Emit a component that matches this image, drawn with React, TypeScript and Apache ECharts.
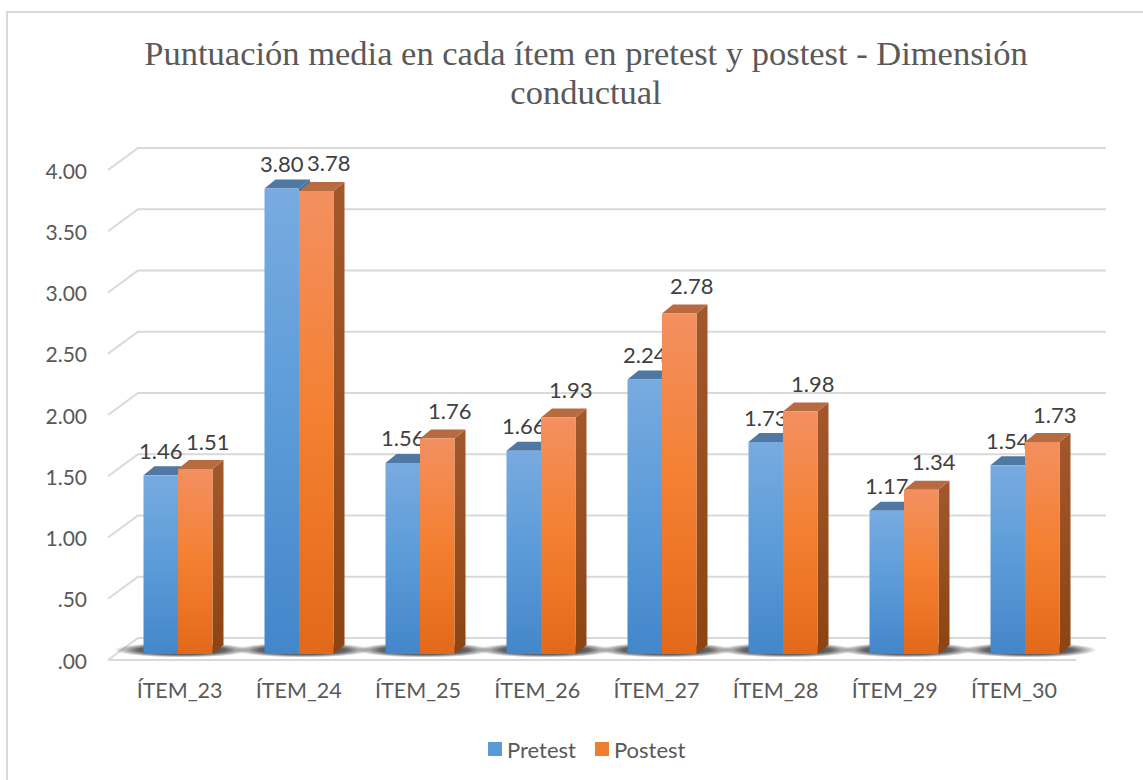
import React, { useEffect, useRef } from "react";
import * as echarts from "echarts";

const categories = ["ÍTEM_23", "ÍTEM_24", "ÍTEM_25", "ÍTEM_26", "ÍTEM_27", "ÍTEM_28", "ÍTEM_29", "ÍTEM_30"];
const pretest = [1.46, 3.8, 1.56, 1.66, 2.24, 1.73, 1.17, 1.54];
const postest = [1.51, 3.78, 1.76, 1.93, 2.78, 1.98, 1.34, 1.73];
const yTicks = [0, 0.5, 1, 1.5, 2, 2.5, 3, 3.5, 4];
const yTickLabels = [".00", ".50", "1.00", "1.50", "2.00", "2.50", "3.00", "3.50", "4.00"];
const seriesNames = ["Pretest", "Postest"];
const titleText = "Puntuación media en cada ítem en pretest y postest - Dimensión\nconductual";

const FONT = "Lato";
const BW = 34.5;
const DX = 11;
const DY = -9;

const palettes = [
  {
    frontTop: "#78abe0",
    frontMid: "#5b9bd8",
    frontBottom: "#4386ca",
    sideTop: "#3f72a6",
    sideBottom: "#356394",
    top: "#4f78a3",
    legend: "#5b9bd5",
  },
  {
    frontTop: "#f39060",
    frontMid: "#f47f30",
    frontBottom: "#e3691a",
    sideTop: "#a3582c",
    sideBottom: "#8c4412",
    top: "#b86a40",
    legend: "#ed7d31",
  },
];

function barRender(si: number) {
  return (params: any, api: any) => {
    const ci = api.value(0);
    const v = api.value(1);
    const base = api.coord([ci, 0]);
    const top = api.coord([ci, v]);
    const cx = base[0] + 1.5;
    const x0 = si === 0 ? cx - BW : cx;
    const x1 = x0 + BW;
    const yb = base[1];
    const yt = top[1];
    const p = palettes[si];
    const labelX = x0 + BW / 2 + (si === 0 ? 0 : 12.5);
    const labelY = yt - (si === 0 ? 25 : 28);
    return {
      type: "group",
      children: [
        {
          type: "polygon",
          shape: { points: [[x1, yt], [x1 + DX, yt + DY], [x1 + DX, yb + DY], [x1, yb]] },
          style: {
            fill: new echarts.graphic.LinearGradient(0, 0, 0, 1, [
              { offset: 0, color: p.sideTop },
              { offset: 1, color: p.sideBottom },
            ]),
          },
        },
        {
          type: "polygon",
          shape: { points: [[x0, yt], [x0 + DX, yt + DY], [x1 + DX, yt + DY], [x1, yt]] },
          style: { fill: p.top },
        },
        {
          type: "rect",
          shape: { x: x0, y: yt, width: BW, height: yb - yt },
          style: {
            fill: new echarts.graphic.LinearGradient(0, 0, 0, 1, [
              { offset: 0, color: p.frontTop },
              { offset: 0.5, color: p.frontMid },
              { offset: 1, color: p.frontBottom },
            ]),
          },
        },
        {
          type: "text",
          style: {
            x: labelX,
            y: labelY,
            text: v.toFixed(2),
            fill: "#404040",
            font: `22px ${FONT}`,
            align: "center",
            verticalAlign: "middle",
          },
        },
      ],
    };
  };
}

function gridRender(params: any, api: any) {
  const v = api.value(1);
  const y = api.coord([0, v])[1];
  const cs = params.coordSys;
  const L = cs.x;
  const R = cs.x + cs.width;
  const children: any[] = [
    {
      type: "polyline",
      shape: { points: [[L - 8, y + 6], [L + 22, y - 16], [R + 22, y - 16]] },
      style: { stroke: "#d9d9d9", lineWidth: 2, fill: "none" },
    },
  ];
  if (v === 0) {
    children.push({
      type: "line",
      shape: { x1: L - 8, y1: y + 6, x2: R - 8, y2: y + 6 },
      style: { stroke: "#d9d9d9", lineWidth: 2 },
    });
  }
  return { type: "group", children };
}

function shadowRender(params: any, api: any) {
  const ci = api.value(0);
  const base = api.coord([ci, 0]);
  const cx = base[0] + 1.5 + 4;
  return {
    type: "ellipse",
    shape: { cx, cy: base[1] - 4, rx: 68, ry: 7.5 },
    style: {
      fill: new echarts.graphic.RadialGradient(0.5, 0.5, 0.5, [
        { offset: 0, color: "rgba(0,0,0,0.9)" },
        { offset: 0.65, color: "rgba(0,0,0,0.6)" },
        { offset: 1, color: "rgba(0,0,0,0)" },
      ]),
    },
  };
}

export default function App() {
  const ref = useRef<HTMLDivElement>(null);
  useEffect(() => {
    if (!ref.current) return;
    const chart = echarts.init(ref.current, null, { renderer: "svg" });
    const option: any = {
      animation: false,
      backgroundColor: "#ffffff",
      title: {
        text: titleText,
        left: 581,
        textAlign: "center",
        top: 28,
        textStyle: {
          fontFamily: "Liberation Serif",
          fontSize: 34.5,
          fontWeight: "normal",
          color: "#595959",
          lineHeight: 39,
        },
      },
      legend: {
        data: seriesNames,
        left: 483,
        top: 733,
        icon: "rect",
        itemWidth: 14,
        itemHeight: 14,
        itemGap: 19,
        textStyle: { fontFamily: FONT, fontSize: 22, color: "#595959" },
      },
      graphic: [
        {
          type: "rect",
          shape: { x: 7, y: 12, width: 1300, height: 900 },
          style: { fill: "none", stroke: "#d9d9d9", lineWidth: 2 },
          silent: true,
        },
      ],
      grid: [
        { left: 116, right: 59, top: 164, bottom: 126 },
        { left: 120, width: 953.6, top: 164, bottom: 126 },
      ],
      xAxis: [
        { type: "category", gridIndex: 0, data: categories, show: false },
        {
          type: "category",
          gridIndex: 1,
          data: categories,
          axisLine: { show: false },
          axisTick: { show: false },
          axisLabel: { margin: 25, fontFamily: FONT, fontSize: 21.5, color: "#595959" },
        },
      ],
      yAxis: [
        {
          type: "value",
          gridIndex: 0,
          min: 0,
          max: 4,
          interval: 0.5,
          splitLine: { show: false },
          axisLine: { show: false },
          axisTick: { show: false },
          axisLabel: {
            margin: 29,
            fontFamily: FONT,
            fontSize: 21,
            color: "#595959",
            verticalAlign: "top",
            lineHeight: 12,
            formatter: (val: number) => yTickLabels[yTicks.indexOf(Math.round(val * 2) / 2)],
          },
        },
        { type: "value", gridIndex: 1, min: 0, max: 4, show: false },
      ],
      series: [
        {
          type: "custom",
          name: "grid",
          silent: true,
          xAxisIndex: 0,
          yAxisIndex: 0,
          renderItem: gridRender,
          data: yTicks.map((v) => [0, v]),
          encode: { x: 0, y: 1 },
          z: 1,
        },
        {
          type: "custom",
          name: "shadow",
          silent: true,
          xAxisIndex: 0,
          yAxisIndex: 0,
          renderItem: shadowRender,
          data: categories.map((_, i) => [i, 0]),
          encode: { x: 0, y: 1 },
          z: 2,
        },
        ...[pretest, postest].map((arr, si) => ({
          type: "custom",
          name: seriesNames[si],
          xAxisIndex: 0,
          yAxisIndex: 0,
          renderItem: barRender(si),
          itemStyle: { color: palettes[si].legend },
          data: arr.map((v, i) => [i, v]),
          encode: { x: 0, y: 1 },
          z: 3 + si,
        })),
      ],
    };
    chart.setOption(option);
    return () => chart.dispose();
  }, []);
  return (
    <div
      ref={ref}
      style={{ position: "absolute", left: 0, top: 0, width: 1143, height: 780 }}
    />
  );
}
